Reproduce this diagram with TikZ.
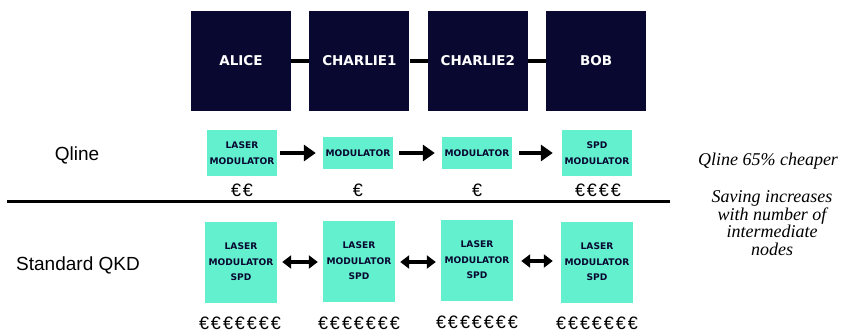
\documentclass[tikz,border=0pt]{standalone}
\usepackage{fontspec}
\setmainfont{Liberation Sans}
\newfontfamily\boxfont{DejaVu Sans}
\newfontfamily\costfont[LetterSpace=11]{Liberation Sans}
\newfontfamily\handfont{Liberation Serif}
\usetikzlibrary{arrows.meta,positioning}
\definecolor{qnavy}{RGB}{8,8,48}
\definecolor{qteal}{RGB}{98,240,206}
\tikzset{
  qk/party/.style={
    fill=qnavy,
    text=white,
    minimum width=100pt,
    minimum height=100pt,
    inner sep=0pt,
    font=\boxfont\bfseries\fontsize{13.5}{16}\selectfont
  },
  qk/comp/.style={
    fill=qteal,
    text=qnavy,
    align=center,
    minimum width=70pt,
    inner sep=0pt,
    font=\boxfont\bfseries\fontsize{9.1}{15.5}\selectfont
  },
  qk/single/.style={qk/comp, minimum height=32pt},
  qk/double/.style={qk/comp, minimum height=46pt},
  qk/triple/.style={qk/comp, minimum width=72pt, minimum height=81pt},
  qk/cost/.style={inner sep=0pt, font=\costfont\fontsize{18}{20}\selectfont},
  qk/side/.style={inner sep=0pt, font=\fontsize{19}{22}\selectfont},
  qk/note/.style={inner sep=0pt, align=center, font=\handfont\itshape\fontsize{18}{17.5}\selectfont},
  qk/link/.style={line width=4pt},
  qk/flow/.style={line width=4pt, -{Triangle[length=12pt, width=16pt]}},
  qk/both/.style={line width=3.5pt, {Triangle[length=9pt, width=13pt]}-{Triangle[length=9pt, width=13pt]}}
}

\begin{document}
\begin{tikzpicture}[x=1pt, y=-1pt]
\useasboundingbox (0,0) rectangle (848,334);

% --- parties
\node[qk/party] (alice) at (241,61) {ALICE};
\node[qk/party, right=18pt of alice] (charlie1) {CHARLIE1};
\node[qk/party, right=18pt of charlie1] (charlie2) {CHARLIE2};
\node[qk/party, right=18pt of charlie2] (bob) {BOB};

\draw[qk/link] (alice) -- (charlie1);
\draw[qk/link] (charlie1) -- (charlie2);
\draw[qk/link] (charlie2) -- (bob);

% --- Qline row
\node[qk/side] (lqline) at (77,155) {Qline};
\node[qk/double] (qa) at (242,153) {LASER\\MODULATOR};
\node[qk/single] (qc1) at (358,153) {MODULATOR};
\node[qk/single] (qc2) at (477,153) {MODULATOR};
\node[qk/double] (qb) at (597,153) {SPD\\MODULATOR};

\node[qk/cost] (qa-cost) at (242,190) {€€};
\node[qk/cost] (qc1-cost) at (358,190) {€};
\node[qk/cost] (qc2-cost) at (477,190) {€};
\node[qk/cost] (qb-cost) at (598,190) {€€€€};

\draw[qk/flow, shorten <=3pt, shorten >=7pt] (qa.east) -- (qc1.west);
\draw[qk/flow, shorten <=6pt, shorten >=7pt] (qc1.east) -- (qc2.west);
\draw[qk/flow, shorten <=7pt, shorten >=9pt] (qc2.east) -- (qb.west);

% --- separator
\coordinate (sep-l) at (7,201);
\coordinate (sep-r) at (670,201);
\draw[line width=3pt] (sep-l) -- (sep-r);

% --- Standard QKD row
\node[qk/side] (lstd) at (78,265) {Standard QKD};
\node[qk/triple] (sa) at (241,262) {LASER\\MODULATOR\\SPD};
\node[qk/triple] (sc1) at (359,261) {LASER\\MODULATOR\\SPD};
\node[qk/triple] (sc2) at (477,260) {LASER\\MODULATOR\\SPD};
\node[qk/triple] (sb) at (597,262) {LASER\\MODULATOR\\SPD};

\node[qk/cost] (sa-cost) at (240,323) {€€€€€€€};
\node[qk/cost] (sc1-cost) at (359,323) {€€€€€€€};
\node[qk/cost] (sc2-cost) at (477,322) {€€€€€€€};
\node[qk/cost] (sb-cost) at (597,323) {€€€€€€€};

\draw[qk/both, shorten <=5pt, shorten >=5pt] (sa.east |- 0,262) -- (sc1.west |- 0,262);
\draw[qk/both, shorten <=5pt, shorten >=5pt] (sc1.east |- 0,262) -- (sc2.west |- 0,262);
\draw[qk/both, shorten <=8pt, shorten >=8pt] (sc2.east |- 0,261) -- (sb.west |- 0,261);

% --- notes
\node[qk/note] (cheaper) at (768,161) {Qline 65\% cheaper};
\node[qk/note] (saving) at (772,223) {Saving increases\\with number of\\intermediate\\nodes};

\end{tikzpicture}
\end{document}
